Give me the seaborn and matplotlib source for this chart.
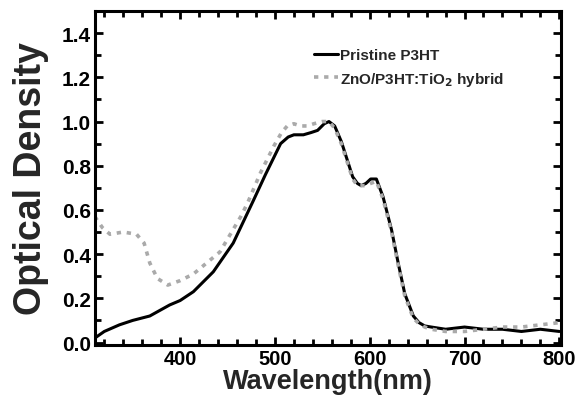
import matplotlib
matplotlib.use("Agg")
import matplotlib.pyplot as plt
import pandas as pd
import seaborn as sns

# Pristine P3HT (black solid)
wl_p = [310, 320, 336, 350, 368, 389, 400, 414, 435, 456, 477, 490, 506, 514, 520, 530,
        538, 545, 552, 557, 563, 570, 576, 582, 587, 591, 596, 601, 607, 614, 623, 630,
        637, 646, 652, 658, 665, 680, 700, 720, 740, 760, 780, 800]
od_p = [0.02, 0.05, 0.08, 0.10, 0.12, 0.17, 0.19, 0.23, 0.32, 0.45, 0.64, 0.76, 0.90, 0.93,
        0.94, 0.94, 0.95, 0.96, 0.99, 1.00, 0.98, 0.91, 0.83, 0.75, 0.72, 0.71, 0.72, 0.74,
        0.74, 0.66, 0.51, 0.36, 0.22, 0.12, 0.09, 0.075, 0.07, 0.06, 0.07, 0.06, 0.06, 0.05,
        0.06, 0.05]

# ZnO/P3HT:TiO2 hybrid (gray dotted)
wl_h = [310, 318, 326, 340, 354, 362, 368, 376, 387, 400, 414, 442, 464, 471, 485, 499,
        507, 513, 520, 527, 534, 541, 550, 557, 563, 570, 576, 582, 587, 591, 596, 601,
        607, 614, 623, 630, 637, 646, 652, 658, 665, 680, 700, 720, 740, 760, 780, 800]
od_h = [0.57, 0.52, 0.49, 0.50, 0.49, 0.45, 0.36, 0.29, 0.26, 0.28, 0.31, 0.41, 0.57, 0.63,
        0.77, 0.89, 0.95, 0.98, 0.99, 0.98, 0.98, 0.99, 1.00, 1.00, 0.97, 0.90, 0.82, 0.74,
        0.71, 0.71, 0.71, 0.72, 0.73, 0.65, 0.50, 0.35, 0.21, 0.11, 0.085, 0.07, 0.06, 0.05,
        0.05, 0.06, 0.07, 0.07, 0.08, 0.09]

labels = ["Pristine P3HT", "ZnO/P3HT:TiO$_2$ hybrid"]

df_p = pd.DataFrame({"wl": wl_p, "od": od_p})
df_h = pd.DataFrame({"wl": wl_h, "od": od_h})

sns.set_theme(style="ticks")
plt.rcParams["font.family"] = ["Liberation Sans", "DejaVu Sans"]
plt.rcParams["font.weight"] = "bold"
plt.rcParams["mathtext.default"] = "bf"

fig = plt.figure(figsize=(5.78, 4.02), dpi=100)
ax = fig.add_axes([0.164, 0.14, 0.807, 0.83])

sns.lineplot(data=df_p, x="wl", y="od", ax=ax, color="black", lw=2.2, label=labels[0])
sns.lineplot(data=df_h, x="wl", y="od", ax=ax, color="#aaaaaa", lw=2.6,
             linestyle=(0, (1.2, 1.6)), label=labels[1])

ax.set_xlim(310, 802)
ax.set_ylim(-0.01, 1.5)
ax.set_xticks([400, 500, 600, 700, 800])
ax.set_xticks(range(320, 801, 20), minor=True)
ax.set_yticks([0.0, 0.2, 0.4, 0.6, 0.8, 1.0, 1.2, 1.4])
ax.set_yticks([0.1, 0.3, 0.5, 0.7, 0.9, 1.1, 1.3, 1.5], minor=True)
ax.set_yticklabels(["0.0", "0.2", "0.4", "0.6", "0.8", "1.0", "1.2", "1.4"])

ax.tick_params(which="both", direction="in", top=True, right=True, width=2, colors="black")
ax.tick_params(which="major", length=6, labelsize=15)
ax.tick_params(which="minor", length=4)
ax.tick_params(axis="x", which="major", pad=3, labelsize=14.5)
ax.tick_params(axis="y", which="major", pad=3)
for s in ax.spines.values():
    s.set_linewidth(2.2)
    s.set_color("black")

ax.set_xlabel("Wavelength(nm)", fontsize=19.5, fontweight="bold", labelpad=0)
ax.set_ylabel("Optical Density", fontsize=27, fontweight="bold", labelpad=9)

ax.legend(loc="upper left", bbox_to_anchor=(0.44, 0.93), frameon=False,
          handlelength=1.6, handletextpad=0.1, labelspacing=0.5,
          prop={"weight": "bold", "size": 11})

fig.savefig("out.png", dpi=100)
